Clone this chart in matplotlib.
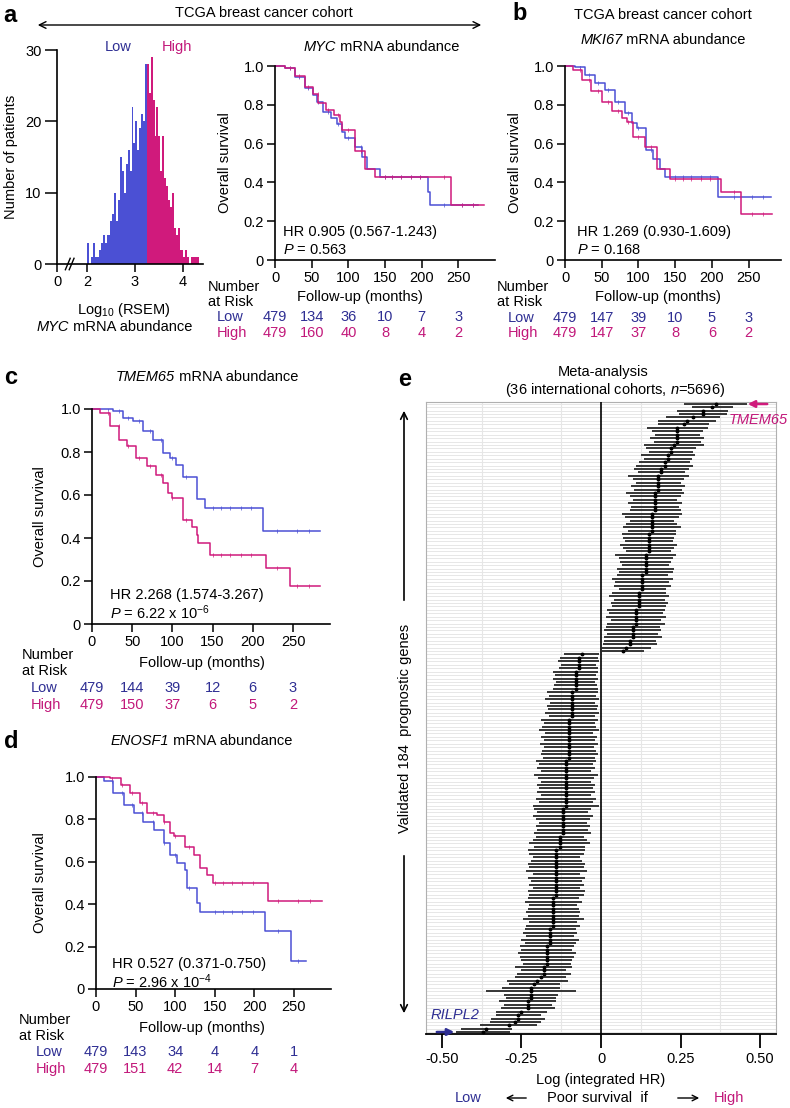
import numpy as np
import matplotlib
matplotlib.use('Agg')
import matplotlib.pyplot as plt
from matplotlib.patches import FancyArrowPatch
from matplotlib.transforms import blended_transform_factory

plt.rcParams['font.family'] = ['Liberation Sans', 'DejaVu Sans']
plt.rcParams['mathtext.fontset'] = 'custom'
plt.rcParams['mathtext.rm'] = 'Liberation Sans'
plt.rcParams['mathtext.it'] = 'Liberation Sans:italic'
plt.rcParams['axes.unicode_minus'] = False

BLUE = '#4b50d4'
MAG = '#d01a7c'
NAVY = '#2e2e93'
MAGT = '#c2187a'
FS = 10.5

# ---- 数据 ----
# 直方图 (MYC, log10 RSEM), 每格宽 0.04, 从 2.01 开始
hist_low = [3, 0, 1, 3, 1, 1, 2, 3, 4, 3, 4, 4, 6, 7, 10, 6, 9, 15, 13, 10,
            14, 16, 13, 22, 17, 20, 16, 19, 21, 20, 28]
hist_high = [28, 24, 29, 23, 18, 22, 18, 13, 18, 12, 11, 9, 8, 10, 5, 4, 5,
             2, 2, 1, 2, 1, 0, 1, 1, 1, 1]

# KM 曲线
myc_low_t = [0, 14, 27, 41, 52, 57, 66, 77, 84, 91, 95, 109, 118, 125, 143, 208, 211, 277]
myc_low_s = [1.0, 0.99, 0.945, 0.885, 0.85, 0.816, 0.765, 0.73, 0.70, 0.66, 0.63, 0.585, 0.53, 0.47, 0.426, 0.35, 0.283, 0.283]
myc_high_t = [0, 14, 27, 41, 52, 59, 70, 80, 89, 91, 109, 123, 136, 240, 285]
myc_high_s = [1.0, 0.99, 0.95, 0.89, 0.855, 0.81, 0.773, 0.747, 0.71, 0.67, 0.56, 0.47, 0.43, 0.283, 0.283]

mki_low_t = [0, 14, 27, 41, 55, 68, 82, 91, 98, 110, 120, 129, 136, 208, 280]
mki_low_s = [1.0, 0.995, 0.954, 0.91, 0.876, 0.816, 0.756, 0.705, 0.68, 0.567, 0.52, 0.47, 0.43, 0.326, 0.326]
mki_high_t = [0, 11, 23, 36, 50, 64, 77, 84, 93, 109, 125, 143, 212, 240, 282]
mki_high_s = [1.0, 0.98, 0.93, 0.87, 0.816, 0.77, 0.73, 0.713, 0.636, 0.585, 0.47, 0.42, 0.35, 0.235, 0.235]

tmem_low_t = [0, 26, 39, 51, 63, 76, 88, 97, 105, 113, 130, 141, 213, 283]
tmem_low_s = [1.0, 0.99, 0.958, 0.943, 0.896, 0.857, 0.795, 0.772, 0.74, 0.686, 0.58, 0.539, 0.433, 0.433]
tmem_high_t = [0, 10, 22, 34, 43, 55, 68, 80, 88, 95, 99, 113, 124, 130, 132, 147, 217, 246, 283]
tmem_high_s = [1.0, 0.98, 0.92, 0.857, 0.826, 0.772, 0.733, 0.694, 0.655, 0.609, 0.585, 0.484, 0.453, 0.415, 0.379, 0.321, 0.26, 0.177, 0.177]

enosf_low_t = [0, 10, 22, 35, 48, 60, 73, 86, 94, 102, 113, 115, 128, 131, 214, 247, 265]
enosf_low_s = [1.0, 0.98, 0.924, 0.87, 0.83, 0.79, 0.75, 0.69, 0.633, 0.594, 0.56, 0.476, 0.405, 0.365, 0.274, 0.134, 0.134]
enosf_high_t = [0, 18, 31, 43, 56, 65, 77, 86, 94, 98, 113, 124, 131, 140, 148, 218, 286]
enosf_high_s = [1.0, 0.995, 0.964, 0.924, 0.877, 0.83, 0.822, 0.79, 0.735, 0.72, 0.672, 0.633, 0.57, 0.539, 0.502, 0.417, 0.417]

censor_t = [20, 33, 45, 58, 72, 86, 100, 117, 150, 160, 172, 185, 198, 230, 255, 270]

risk_times = [0, 50, 100, 150, 200, 250]
myc_risk_low = [479, 134, 36, 10, 7, 3]
myc_risk_high = [479, 160, 40, 8, 4, 2]
mki_risk_low = [479, 147, 39, 10, 5, 3]
mki_risk_high = [479, 147, 37, 8, 6, 2]
tmem_risk_low = [479, 144, 39, 12, 6, 3]
tmem_risk_high = [479, 150, 37, 6, 5, 2]
enosf_risk_low = [479, 143, 34, 4, 4, 1]
enosf_risk_high = [479, 151, 42, 14, 7, 4]

# meta 分析 log(HR) 及 95% CI 半宽, 从上到下
pos_est = [0.36, 0.35, 0.32, 0.32, 0.29, 0.27, 0.26, 0.24, 0.24, 0.24,
           0.24, 0.24, 0.23, 0.22, 0.22, 0.21, 0.21, 0.20, 0.20, 0.19,
           0.19, 0.18, 0.18, 0.18, 0.18, 0.18, 0.17, 0.17, 0.17, 0.17,
           0.17, 0.17, 0.16, 0.16, 0.16, 0.16, 0.16, 0.16, 0.15, 0.15,
           0.15, 0.15, 0.15, 0.15, 0.14, 0.14, 0.14, 0.14, 0.14, 0.14,
           0.13, 0.13, 0.13, 0.13, 0.13, 0.12, 0.12, 0.12, 0.12, 0.12,
           0.11, 0.11, 0.11, 0.11, 0.11, 0.10, 0.10, 0.10, 0.10, 0.09,
           0.09, 0.08, 0.07]
pos_hw = [0.100, 0.065, 0.080, 0.075, 0.085, 0.090, 0.080, 0.095, 0.080, 0.070,
          0.085, 0.075, 0.095, 0.080, 0.070, 0.085, 0.075, 0.080, 0.090, 0.085,
          0.075, 0.095, 0.080, 0.070, 0.085, 0.075, 0.090, 0.080, 0.070, 0.085,
          0.075, 0.080, 0.095, 0.085, 0.070, 0.080, 0.090, 0.075, 0.085, 0.080,
          0.075, 0.090, 0.080, 0.070, 0.095, 0.085, 0.080, 0.075, 0.090, 0.085,
          0.080, 0.095, 0.085, 0.090, 0.075, 0.085, 0.095, 0.080, 0.090, 0.085,
          0.090, 0.085, 0.095, 0.080, 0.090, 0.085, 0.090, 0.080, 0.092, 0.082,
          0.085, 0.076, 0.066]
neg_est = [-0.06, -0.07, -0.07, -0.07, -0.07, -0.08, -0.08, -0.08, -0.08, -0.08,
           -0.08, -0.09, -0.09, -0.09, -0.09, -0.09, -0.09, -0.09, -0.09, -0.10,
           -0.10, -0.10, -0.10, -0.10, -0.10, -0.10, -0.10, -0.10, -0.10, -0.10,
           -0.10, -0.11, -0.11, -0.11, -0.11, -0.11, -0.11, -0.11, -0.11, -0.11,
           -0.11, -0.11, -0.11, -0.11, -0.11, -0.12, -0.12, -0.12, -0.12, -0.12,
           -0.12, -0.12, -0.12, -0.13, -0.13, -0.13, -0.13, -0.14, -0.14, -0.14,
           -0.14, -0.14, -0.14, -0.14, -0.14, -0.14, -0.14, -0.14, -0.14, -0.14,
           -0.14, -0.15, -0.15, -0.15, -0.15, -0.15, -0.15, -0.15, -0.15, -0.15,
           -0.16, -0.16, -0.16, -0.16, -0.16, -0.17, -0.17, -0.17, -0.17, -0.17,
           -0.17, -0.18, -0.18, -0.18, -0.19, -0.20, -0.21, -0.22, -0.22, -0.22,
           -0.22, -0.23, -0.23, -0.23, -0.25, -0.26, -0.26, -0.27, -0.29, -0.36,
           -0.37]
neg_hw = [0.055, 0.060, 0.065, 0.055, 0.062, 0.070, 0.065, 0.072, 0.060, 0.068,
          0.070, 0.080, 0.075, 0.085, 0.070, 0.080, 0.078, 0.085, 0.072, 0.090,
          0.080, 0.085, 0.095, 0.075, 0.088, 0.080, 0.092, 0.078, 0.085, 0.090,
          0.082, 0.095, 0.085, 0.090, 0.080, 0.100, 0.088, 0.078, 0.092, 0.085,
          0.090, 0.080, 0.095, 0.085, 0.105, 0.090, 0.080, 0.095, 0.085, 0.075,
          0.085, 0.080, 0.090, 0.075, 0.085, 0.095, 0.080, 0.090, 0.085, 0.075,
          0.080, 0.090, 0.085, 0.095, 0.075, 0.090, 0.080, 0.085, 0.075, 0.090,
          0.085, 0.080, 0.090, 0.075, 0.080, 0.085, 0.080, 0.095, 0.075, 0.085,
          0.080, 0.085, 0.075, 0.090, 0.080, 0.085, 0.080, 0.090, 0.085, 0.080,
          0.075, 0.090, 0.070, 0.085, 0.080, 0.095, 0.080, 0.090, 0.140, 0.085,
          0.080, 0.090, 0.075, 0.085, 0.080, 0.070, 0.085, 0.080, 0.090, 0.080,
          0.085]

W, H = 790, 1108
fig = plt.figure(figsize=(W / 100, H / 100), dpi=100)
renderer = fig.canvas.get_renderer()


def rect(l, t, r, b):
    return [l / W, 1 - b / H, (r - l) / W, (b - t) / H]


def ftext(x, y, s, ha='center', va='center', **kw):
    kw.setdefault('fontsize', FS)
    return fig.text(x / W, 1 - y / H, s, ha=ha, va=va, **kw)


def mixed(x, y, parts, ha='center'):
    # 斜体基因名 + 正体文字, 拼在一起
    texts = [ftext(0, y, s, ha='left', fontstyle=st, color=c) for s, st, c in parts]
    widths = [t.get_window_extent(renderer).width for t in texts]
    total = sum(widths)
    x0 = {'center': x - total / 2, 'right': x - total, 'left': x}[ha]
    for t, w in zip(texts, widths):
        t.set_x(x0 / W)
        x0 += w


def farrow(x0, y0, x1, y1, style='->', color='k', lw=1.0, ms=10):
    a = FancyArrowPatch((x0 / W, 1 - y0 / H), (x1 / W, 1 - y1 / H),
                        transform=fig.transFigure, arrowstyle=style,
                        mutation_scale=ms, lw=lw, color=color)
    fig.add_artist(a)


def style_axes(ax):
    for s in ['top', 'right']:
        ax.spines[s].set_visible(False)
    for s in ['left', 'bottom']:
        ax.spines[s].set_linewidth(1.2)
    ax.tick_params(direction='out', length=6, width=1.1, labelsize=FS, pad=2)


def km_panel(rc, xmax, lt, ls, ht, hs, hr, p, hr_xy, risk_low, risk_high,
             risk_x, risk_y, ylab_x):
    ax = fig.add_axes(rect(*rc))
    style_axes(ax)
    for t, s, c in [(lt, ls, BLUE), (ht, hs, MAG)]:
        ax.step(t, s, where='post', color=c, lw=1.1, clip_on=False)
        ct = [x for x in censor_t if x < t[-1]]
        idx = np.searchsorted(t, ct, side='right') - 1
        ax.plot(ct, np.array(s)[idx], '|', color=c, ms=3, mew=0.7, alpha=0.7)
    ax.set_xlim(0, xmax)
    ax.set_ylim(0, 1)
    ax.set_xticks(risk_times)
    ax.set_yticks([0, 0.2, 0.4, 0.6, 0.8, 1.0])
    ax.set_yticklabels(['0', '0.2', '0.4', '0.6', '0.8', '1.0'])
    ftext(ylab_x, (rc[1] + rc[3]) / 2, 'Overall survival', rotation=90)
    ftext(hr_xy[0], hr_xy[1], hr, ha='left')
    ftext(hr_xy[0], hr_xy[1] + 18, p, ha='left')
    tr = blended_transform_factory(ax.transData, fig.transFigure)
    nx, lx = risk_x
    ftext(nx, risk_y[0], 'Number', ha='left')
    ftext(nx, risk_y[1], 'at Risk', ha='left')
    ftext(lx, risk_y[2], 'Low', ha='left', color=NAVY)
    ftext(lx, risk_y[3], 'High', ha='left', color=MAGT)
    for x, a, b in zip(risk_times, risk_low, risk_high):
        ax.text(x, 1 - risk_y[2] / H, str(a), transform=tr, ha='center',
                va='center', fontsize=FS, color=NAVY)
        ax.text(x, 1 - risk_y[3] / H, str(b), transform=tr, ha='center',
                va='center', fontsize=FS, color=MAGT)
    return ax


def gene_title(x, y, gene):
    mixed(x, y, [(gene, 'italic', 'k'), (' mRNA abundance', 'normal', 'k')])


# ---- a: 直方图 ----
axh = fig.add_axes(rect(57, 50, 203, 264))
style_axes(axh)
bw = 0.04
low_x = 2.03 + bw * np.arange(len(hist_low))
high_x = low_x[-1] + bw + bw * np.arange(len(hist_high))
axh.bar(low_x, hist_low, width=bw, color=BLUE, linewidth=0)
axh.bar(high_x, hist_high, width=bw, color=MAG, linewidth=0)
axh.set_xlim(1.375, 4.42)
axh.set_ylim(0, 30)
axh.set_yticks([0, 10, 20, 30])
axh.tick_params(axis='y', length=9)
axh.set_xticks([1.375, 2, 3, 4])
axh.set_xticklabels(['0', '2', '3', '4'])
for xb in [1.6, 1.68]:
    axh.plot([xb - 0.05, xb + 0.05], [-0.8, 0.8], color='k', lw=1.0, clip_on=False)
ftext(11, 157, 'Number of patients', rotation=90)
ftext(124, 310, 'Log$_{10}$ (RSEM)')
gene_title(114, 327, 'MYC')
ftext(118, 47, 'Low', color=NAVY)
ftext(177, 47, 'High', color=MAGT)

# ---- a: MYC KM ----
km_panel((275, 66, 495, 260), 300, myc_low_t, myc_low_s, myc_high_t, myc_high_s,
         'HR 0.905 (0.567-1.243)', '$\\it{P}$ = 0.563', (283, 232),
         myc_risk_low, myc_risk_high, (208, 217), (287, 302, 317, 333), 225)
gene_title(381, 47, 'MYC')
ftext(10, 15, 'a', fontsize=17, fontweight='bold')
ftext(264, 13, 'TCGA breast cancer cohort')
farrow(35, 25, 484, 25, style='<->', lw=1.0, ms=12)
ftext(360, 297, 'Follow-up (months)')

# ---- b ----
km_panel((565, 66, 781, 260), 294, mki_low_t, mki_low_s, mki_high_t, mki_high_s,
         'HR 1.269 (0.930-1.609)', '$\\it{P}$ = 0.168', (577, 232),
         mki_risk_low, mki_risk_high, (497, 508), (287, 302, 318, 333), 515)
ftext(520, 14, 'b', fontsize=17, fontweight='bold')
ftext(663, 15, 'TCGA breast cancer cohort')
gene_title(663, 40, 'MKI67')
ftext(658, 297, 'Follow-up (months)')

# ---- c ----
km_panel((92, 409, 330, 624), 296, tmem_low_t, tmem_low_s, tmem_high_t, tmem_high_s,
         'HR 2.268 (1.574-3.267)', '$\\it{P}$ = 6.22 x 10$^{-6}$', (110, 595),
         tmem_risk_low, tmem_risk_high, (22, 31), (655, 671, 688, 705), 40)
ftext(11, 378, 'c', fontsize=17, fontweight='bold')
gene_title(207, 377, 'TMEM65')
ftext(202, 663, 'Follow-up (months)')

# ---- d ----
km_panel((96, 777, 331, 989), 297, enosf_low_t, enosf_low_s, enosf_high_t, enosf_high_s,
         'HR 0.527 (0.371-0.750)', '$\\it{P}$ = 2.96 x 10$^{-4}$', (112, 964),
         enosf_risk_low, enosf_risk_high, (19, 36), (1020, 1036, 1052, 1069), 40)
ftext(11, 742, 'd', fontsize=17, fontweight='bold')
gene_title(201, 741, 'ENOSF1')
ftext(202, 1028, 'Follow-up (months)')

# ---- e: meta 分析 ----
est = np.array(pos_est + neg_est)
hw = np.array(pos_hw + neg_hw)
rows = np.arange(len(est))
axe = fig.add_axes(rect(426, 402, 776, 1034))
axe.hlines(rows, -0.55, 0.55, color='#e3e3e3', lw=0.6, zorder=0)
for xv in [-0.375, -0.125, 0.125, 0.375]:
    axe.axvline(xv, color='#e6e6e6', lw=0.8, zorder=0)
axe.hlines(rows, est - hw, est + hw, color='#262626', lw=1.3, zorder=2)
axe.plot(est, rows, 'o', color='k', ms=1.8, zorder=3)
axe.axvline(0, color='k', lw=1.2, zorder=4)
axe.set_xlim(-0.55, 0.55)
axe.set_ylim(len(est) - 0.5, -0.5)
axe.set_yticks([])
axe.set_xticks([-0.5, -0.25, 0, 0.25, 0.5])
axe.set_xticklabels(['-0.50', '-0.25', '0', '0.25', '0.50'])
axe.tick_params(axis='x', direction='out', length=10, width=1.3, labelsize=FS, pad=3)
for s in ['top', 'left', 'right']:
    axe.spines[s].set_color('#b0b0b0')
    axe.spines[s].set_linewidth(0.8)
axe.spines['bottom'].set_linewidth(1.3)

ftext(405, 379, 'e', fontsize=17, fontweight='bold')
ftext(603, 372, 'Meta-analysis')
ftext(615, 390, '(36 international cohorts, $\\it{n}$=5696)')
ftext(405, 728, 'Validated 184  prognostic genes', rotation=90)
farrow(404, 603, 404, 408, style='->', lw=1.2, ms=12)
farrow(404, 853, 404, 1016, style='->', lw=1.2, ms=12)
farrow(770, 404, 745, 404, style='-|>', color=MAG, lw=1.8, ms=10)
ftext(788, 420, 'TMEM65', ha='right', color=MAGT, fontstyle='italic')
farrow(434, 1032, 457, 1032, style='-|>', color=NAVY, lw=1.8, ms=10)
ftext(431, 1015, 'RILPL2', ha='left', color=NAVY, fontstyle='italic')
ftext(601, 1080, 'Log (integrated HR)')
ftext(468, 1098, 'Low', color=NAVY)
farrow(529, 1098, 503, 1098, style='->', lw=1.0, ms=10)
ftext(597, 1098, 'Poor survival  if')
farrow(675, 1098, 702, 1098, style='->', lw=1.0, ms=10)
ftext(729, 1098, 'High', color=MAGT)

fig.savefig('out.png', dpi=100)
